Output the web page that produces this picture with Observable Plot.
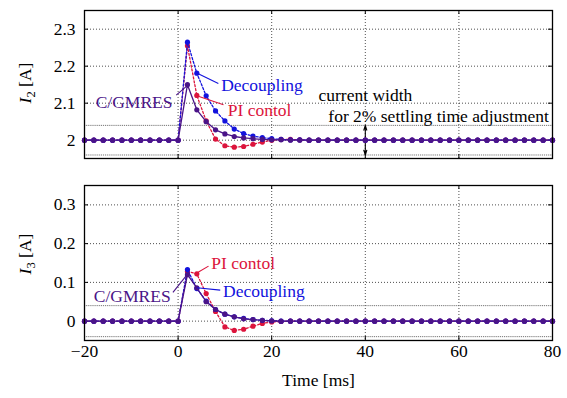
<!DOCTYPE html>
<html><head><meta charset="utf-8">
<script src="https://cdn.jsdelivr.net/npm/d3@7"></script>
<script src="https://cdn.jsdelivr.net/npm/@observablehq/plot@0.6"></script>
<style>
body{margin:0;background:#fff;}
#chart{position:relative;width:567px;height:398px;}
#chart svg{display:block;}
#chart svg, #chart svg text{font-family:"Liberation Serif","Times New Roman",Times,"DejaVu Serif",serif !important;}
</style></head><body><div id="chart"></div>
<script>
// ---- data ----
const time = [-20,-18,-16,-14,-12,-10,-8,-6,-4,-2,0,2,4,6,8,10,12,14,16,18,20,22,24,26,28,30,32,34,36,38,40,42,44,46,48,50,52,54,56,58,60,62,64,66,68,70,72,74,76,78,80];

const i2Decoupling = [2,2,2,2,2,2,2,2,2,2,2,
  2.265,2.181,2.120,2.079,2.052,2.030,2.018,2.011,2.007,2.004,2.002,2.001,2.001,
  2,2,2,2,2,2,2,2,2,2,2,2,2,2,2,2,2,2,2,2,2,2,2,2,2,2,2];
const i2PI = [2,2,2,2,2,2,2,2,2,2,2,
  2.255,2.121,2.052,2.003,1.985,1.981,1.983,1.989,1.995,2.000,2.002,2.002,2.001,
  2,2,2,2,2,2,2,2,2,2,2,2,2,2,2,2,2,2,2,2,2,2,2,2,2,2,2];
const i2GMRES = [2,2,2,2,2,2,2,2,2,2,2,
  2.150,2.082,2.050,2.028,2.017,2.010,2.006,2.004,2.002,2.001,2.001,
  2,2,2,2,2,2,2,2,2,2,2,2,2,2,2,2,2,2,2,2,2,2,2,2,2,2,2,2,2];

const i3Decoupling = [0,0,0,0,0,0,0,0,0,0,0,
  0.133,0.084,0.052,0.030,0.018,0.011,0.007,0.004,0.002,0.001,
  0,0,0,0,0,0,0,0,0,0,0,0,0,0,0,0,0,0,0,0,0,0,0,0,0,0,0,0,0,0];
const i3PI = [0,0,0,0,0,0,0,0,0,0,0,
  0.128,0.122,0.071,0.025,-0.015,-0.024,-0.021,-0.013,-0.006,-0.002,-0.001,
  0,0,0,0,0,0,0,0,0,0,0,0,0,0,0,0,0,0,0,0,0,0,0,0,0,0,0,0,0];
const i3GMRES = [0,0,0,0,0,0,0,0,0,0,0,
  0.120,0.086,0.050,0.030,0.018,0.011,0.006,0.004,0.002,0.001,
  0,0,0,0,0,0,0,0,0,0,0,0,0,0,0,0,0,0,0,0,0,0,0,0,0,0,0,0,0,0];

const seriesNames = ["PI contol", "Decoupling", "C/GMRES"];
const xTicks = [-20, 0, 20, 40, 60, 80];
const xGrid = [0, 20, 40, 60];
const i2Ticks = [2, 2.1, 2.2, 2.3];
const i3Ticks = [0, 0.1, 0.2, 0.3];
const i2Band = [1.96, 2.04];
const i3Band = [-0.04, 0.04];

// annotations (data units)
const i2Notes = [
  {text: "C/GMRES", s: "C/GMRES", x: -1.2, y: 2.101, anchor: "end", x1: -0.4, y1: 2.122, x2: 1.9, y2: 2.147},
  {text: "Decoupling", s: "Decoupling", x: 9.2, y: 2.148, anchor: "start", x1: 8.6, y1: 2.153, x2: 4.2, y2: 2.180},
  {text: "PI contol", s: "PI contol", x: 10.6, y: 2.080, anchor: "start", x1: 9.7, y1: 2.096, x2: 4.0, y2: 2.120}
];
const i2Text = [
  {text: "current width", x: 30.0, y: 2.120},
  {text: "for 2% settling time adjustment", x: 32.1, y: 2.063}
];
const i3Notes = [
  {text: "PI contol", s: "PI contol", x: 7.1, y: 0.149, anchor: "start", x1: 6.5, y1: 0.142, x2: 4.0, y2: 0.124},
  {text: "Decoupling", s: "Decoupling", x: 9.6, y: 0.076, anchor: "start", x1: 9.0, y1: 0.080, x2: 4.0, y2: 0.086},
  {text: "C/GMRES", s: "C/GMRES", x: -1.6, y: 0.064, anchor: "end", x1: -1.1, y1: 0.074, x2: 1.8, y2: 0.118}
];

// ---- style ----
const FONT = "Liberation Serif, Times New Roman, Times, DejaVu Serif, serif";
const COLOR = {"PI contol": "#dc143c", "Decoupling": "#1212dd", "C/GMRES": "#4a1488"};
const DASH = {"PI contol": "2,2", "Decoupling": "2.2,1.8", "C/GMRES": null};

function rows(a, b, c) {
  const out = [];
  [a, b, c].forEach((arr, k) => arr.forEach((v, i) => out.push({t: time[i], v, s: seriesNames[k]})));
  return out;
}

function panel({data, yDomain, yTicks, band, height, marginTop, marginBottom, notes, extraText, arrow, showX, ylab, ylabY}) {
  const marks = [];
  const innerH = height - marginTop - marginBottom;
  const tk = (yDomain[1] - yDomain[0]) * 4 / innerH; // 4px tick in data units
  const tkx = 100 * 4 / 468;
  marks.push(Plot.ruleX(xGrid, {stroke: "#222", strokeDasharray: "1,2", strokeWidth: 0.8}));
  marks.push(Plot.ruleY(yTicks, {stroke: "#222", strokeDasharray: "1,2", strokeWidth: 0.8}));
  marks.push(Plot.ruleY(band, {stroke: "#666", strokeDasharray: "1.2,0.9", strokeWidth: 0.9}));
  // inward ticks
  marks.push(Plot.ruleX(xGrid, {y1: yDomain[0], y2: yDomain[0] + tk, stroke: "#000", strokeWidth: 1}));
  marks.push(Plot.ruleX(xGrid, {y1: yDomain[1], y2: yDomain[1] - tk, stroke: "#000", strokeWidth: 1}));
  marks.push(Plot.ruleY(yTicks, {x1: -20, x2: -20 + tkx, stroke: "#000", strokeWidth: 1}));
  marks.push(Plot.ruleY(yTicks, {x1: 80, x2: 80 - tkx, stroke: "#000", strokeWidth: 1}));
  if (arrow) {
    marks.push(Plot.arrow(arrow, {x1: "x", y1: "y1", x2: "x", y2: "y2", stroke: "#000", strokeWidth: 1.1, headLength: 7, headAngle: 35}));
  }
  for (const s of seriesNames) {
    const d = data.filter(r => r.s === s);
    marks.push(Plot.line(d, {x: "t", y: "v", stroke: COLOR[s], strokeWidth: 1.3, strokeDasharray: DASH[s]}));
    marks.push(Plot.dot(d, {x: "t", y: "v", fill: COLOR[s], r: 2.6}));
  }
  marks.push(Plot.link(notes, {x1: "x1", y1: "y1", x2: "x2", y2: "y2", stroke: d => COLOR[d.s], strokeWidth: 1.1}));
  for (const n of notes) {
    marks.push(Plot.text([n], {x: "x", y: "y", text: "text", fill: COLOR[n.s], textAnchor: n.anchor, fontSize: 17.5, fontFamily: FONT}));
  }
  if (extraText) marks.push(Plot.text(extraText, {x: "x", y: "y", text: "text", fill: "#000", textAnchor: "start", fontSize: 17.5, fontFamily: FONT}));
  marks.push(Plot.axisY({ticks: yTicks, tickSize: 0, tickPadding: 9, tickFormat: d => String(+d.toFixed(2)), fontSize: 17.5, fontFamily: FONT, label: null}));
  if (showX) {
    marks.push(Plot.axisX({ticks: xTicks, tickSize: 0, tickPadding: 4, fontSize: 17.5, fontFamily: FONT, label: null}));
    marks.push(Plot.text(["Time [ms]"], {frameAnchor: "bottom", dy: 45, fontSize: 17.5, fontFamily: FONT, fill: "#000"}));
  }
  marks.push(Plot.frame({stroke: "#000", strokeWidth: 1.3}));

  const svg = Plot.plot({
    width: 567, height, marginTop, marginBottom, marginLeft: 84, marginRight: 15,
    style: {fontFamily: FONT, fontSize: "17.5px", color: "#000", background: "#fff"},
    x: {domain: [-20, 80], axis: null},
    y: {domain: yDomain, axis: null},
    marks
  });
  // y-axis label with italic I and subscript
  const t = d3.select(svg).append("text")
    .attr("transform", `translate(31,${ylabY}) rotate(-90)`)
    .attr("text-anchor", "middle")
    .attr("font-family", FONT).attr("font-size", 17.5).attr("fill", "#000");
  t.append("tspan").attr("font-style", "italic").text("I");
  t.append("tspan").attr("font-size", 12.5).attr("dy", 4).text(ylab);
  t.append("tspan").attr("dy", -4).text(" [A]");
  return svg;
}

const topSvg = panel({
  data: rows(i2PI, i2Decoupling, i2GMRES),
  yDomain: [1.9505, 2.3505], yTicks: i2Ticks, band: i2Band,
  height: 170, marginTop: 10, marginBottom: 12,
  notes: i2Notes, extraText: i2Text,
  arrow: [{x: 40, y1: 2.0, y2: 2.04}, {x: 40, y1: 2.0, y2: 1.96}],
  showX: false, ylab: "2", ylabY: 83
});
const bottomSvg = panel({
  data: rows(i3PI, i3Decoupling, i3GMRES),
  yDomain: [-0.05, 0.35], yTicks: i3Ticks, band: i3Band,
  height: 228, marginTop: 15, marginBottom: 58,
  notes: i3Notes, extraText: null, arrow: null,
  showX: true, ylab: "3", ylabY: 84
});
document.getElementById("chart").append(topSvg, bottomSvg);
</script></body></html>
